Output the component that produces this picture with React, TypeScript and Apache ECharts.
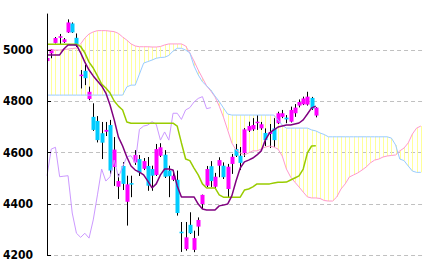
import React, { useEffect, useRef } from 'react';
import * as echarts from 'echarts';

// Candles (index 0..64): open, close, high, low
const opens = [
  4958, 4988, 5029, 5051, 5032, 5070, 5105, 5049, 4901, 4920,
  4810, 4740, 4724, 4676, 4682, 4708, 4544, 4467, 4548, 4408,
  4481, 4562, 4575, 4537, 4548, 4536, 4513, 4588, 4592, 4530,
  4494, 4494, 4291, 4223, 4318, 4220, 4311, 4399, 4471, 4547,
  4467, 4549, 4549, 4458, 4556, 4614, 4588, 4598, 4686, 4691,
  4717, 4695, 4677, 4673, 4695, 4715, 4740, 4737, 4721, 4754,
  4784, 4789, 4788, 4814, 4745,
];
const closes = [
  4970, 5004, 5048, 5055, 5043, 5109, 5070, 5017, 4905, 4891,
  4838, 4689, 4649, 4639, 4689, 4530, 4612, 4489, 4478, 4476,
  4476, 4591, 4522, 4567, 4471, 4510, 4614, 4621, 4506, 4508,
  4510, 4364, 4285, 4269, 4285, 4266, 4337, 4435, 4536, 4489,
  4506, 4571, 4504, 4545, 4584, 4588, 4560, 4691, 4704, 4708,
  4721, 4711, 4649, 4681, 4649, 4754, 4754, 4730, 4767, 4776,
  4798, 4812, 4819, 4772, 4776,
];
const highs = [
  4974, 5005, 5052, 5064, 5048, 5121, 5109, 5066, 4923, 4943,
  4858, 4793, 4743, 4720, 4720, 4728, 4661, 4517, 4563, 4510,
  4510, 4610, 4591, 4579, 4583, 4549, 4634, 4637, 4610, 4549,
  4532, 4530, 4329, 4329, 4367, 4295, 4347, 4436, 4548, 4567,
  4521, 4582, 4562, 4556, 4595, 4634, 4622, 4696, 4721, 4735,
  4747, 4720, 4695, 4712, 4735, 4760, 4767, 4747, 4780, 4790,
  4808, 4819, 4838, 4818, 4778,
];
const lows = [
  4954, 4969, 5027, 5025, 5029, 5068, 5068, 5013, 4851, 4864,
  4805, 4685, 4640, 4575, 4665, 4517, 4470, 4419, 4454, 4315,
  4426, 4552, 4509, 4532, 4451, 4451, 4509, 4583, 4501, 4426,
  4489, 4354, 4212, 4217, 4282, 4211, 4275, 4380, 4466, 4466,
  4458, 4504, 4497, 4426, 4517, 4583, 4532, 4583, 4681, 4685,
  4689, 4689, 4626, 4618, 4623, 4712, 4735, 4715, 4718, 4740,
  4777, 4786, 4784, 4767, 4738,
];

// Conversion line (index 0..64)
const tenkan = [
  4982, 4982, 4982, 4982, 5005, 5021, 5021, 5021, 4990, 4954,
  4923, 4900, 4880, 4861, 4833, 4786, 4728, 4661, 4626, 4583,
  4548, 4532, 4524, 4513, 4489, 4462, 4478, 4513, 4536, 4536,
  4532, 4470, 4427, 4427, 4427, 4427, 4399, 4380, 4376, 4376,
  4376, 4392, 4395, 4399, 4431, 4489, 4540, 4564, 4571, 4579,
  4591, 4607, 4650, 4677, 4689, 4700, 4704, 4708, 4708, 4712,
  4716, 4728, 4751, 4775, 4782,
];
// Base line (index 0..64)
const kijun = [
  5024, 5024, 5024, 5024, 5024, 5024, 5024, 5024, 5015, 4990,
  4954, 4931, 4900, 4868, 4853, 4833, 4802, 4782, 4767, 4720,
  4715, 4715, 4715, 4715, 4715, 4715, 4715, 4715, 4715, 4715,
  4715, 4704, 4638, 4575, 4569, 4540, 4513, 4478, 4462, 4462,
  4462, 4435, 4426, 4426, 4426, 4426, 4426, 4454, 4458, 4466,
  4478, 4478, 4478, 4478, 4481, 4484, 4484, 4485, 4493, 4501,
  4509, 4536, 4599, 4626, 4627,
];
// Leading span A (index 0..89)
const senkouA = [
  5001, 5001, 5001, 5001, 5003, 5005, 5007, 5009, 5025, 5048,
  5064, 5072, 5077, 5077, 5077, 5075, 5073, 5066, 5052, 5040,
  5025, 5017, 5014, 5014, 5014, 5013, 5013, 5015, 5021, 5025,
  5025, 5025, 5025, 5017, 4990, 4958, 4923, 4892, 4861, 4841,
  4818, 4782, 4739, 4689, 4638, 4610, 4599, 4591, 4599, 4607,
  4607, 4614, 4622, 4626, 4622, 4614, 4587, 4536, 4505, 4485,
  4466, 4446, 4427, 4423, 4423, 4421, 4413, 4411, 4411, 4427,
  4458, 4478, 4505, 4513, 4521, 4532, 4544, 4560, 4571, 4575,
  4583, 4587, 4589, 4591, 4607, 4618, 4638, 4673, 4696, 4704,
];
// Leading span B (index 0..89)
const senkouB = [
  4825, 4825, 4825, 4825, 4825, 4825, 4825, 4825, 4825, 4825,
  4825, 4825, 4825, 4825, 4825, 4825, 4825, 4825, 4825, 4857,
  4864, 4864, 4907, 4950, 4956, 4962, 4969, 4972, 4973, 4980,
  4997, 5008, 5008, 5001, 4990, 4939, 4904, 4877, 4861, 4845,
  4821, 4800, 4775, 4751, 4747, 4747, 4747, 4747, 4747, 4747,
  4747, 4747, 4747, 4747, 4747, 4728, 4708, 4696, 4696, 4696,
  4696, 4696, 4696, 4689, 4685, 4677, 4671, 4662, 4662, 4662,
  4662, 4662, 4662, 4662, 4662, 4662, 4662, 4662, 4662, 4662,
  4662, 4662, 4657, 4630, 4575, 4569, 4548, 4528, 4523, 4523,
];
// Lagging span: closes plotted 25 periods back
const chikou = closes.slice(25);

const yTicks = [4200, 4400, 4600, 4800, 5000];
const xCats = Array.from({ length: 91 }, (_, i) => String(i));

export default function App() {
  const ref = useRef<HTMLDivElement>(null);
  useEffect(() => {
    const chart = echarts.init(ref.current!, null, { renderer: 'svg' });
    const candleData = opens.map((o, i) => [i, o, closes[i], lows[i], highs[i]]);
    const cloudData = senkouA.map((a, i) => [i, a, senkouB[i]]);
    const labelFont = "'Liberation Sans Narrow', 'DejaVu Sans Condensed', 'Liberation Sans', sans-serif";
    const option: any = {
      animation: false,
      backgroundColor: '#ffffff',
      grid: { left: 45, right: 5, top: 14, bottom: 14 },
      xAxis: { type: 'category', data: xCats, boundaryGap: false, show: false },
      yAxis: [
        {
          type: 'value', min: 4200, max: 5142, interval: 200, z: 0,
          axisLine: { show: false }, axisTick: { show: false }, axisLabel: { show: false },
          splitLine: { show: true, showMaxLine: false, lineStyle: { color: '#c0c0c0', type: [4, 3], width: 1 } },
        },
        {
          type: 'value', min: 4200, max: 5142, interval: 200, position: 'left', z: 10,
          axisLine: { show: true, onZero: false, lineStyle: { color: '#000', width: 1 } },
          axisTick: { show: true, inside: true, length: 4, lineStyle: { color: '#000' }, customValues: yTicks },
          axisLabel: {
            customValues: yTicks, margin: 14, color: '#000', fontSize: 12, fontWeight: 'bold', fontFamily: labelFont,
            formatter: (v: number) => String(Math.round(v)),
          },
          splitLine: { show: false },
        },
      ],
      series: [
        {
          type: 'custom', name: 'cloud', z: 1, silent: true, clip: true,
          data: cloudData, encode: { x: 0, y: [1, 2] },
          renderItem: (params: any, api: any) => {
            const i = api.value(0);
            const p1 = api.coord([i, api.value(1)]);
            const p2 = api.coord([i, api.value(2)]);
            const x = Math.round(p1[0]) + 0.5;
            return { type: 'line', shape: { x1: x, y1: p1[1], x2: x, y2: p2[1] }, style: { stroke: '#ffff99', lineWidth: 1 } };
          },
        },
        {
          type: 'custom', name: 'candles', z: 2, silent: true, clip: true,
          data: candleData, encode: { x: 0, y: [1, 2, 3, 4] },
          renderItem: (params: any, api: any) => {
            const i = api.value(0);
            const o = api.value(1), c = api.value(2), l = api.value(3), h = api.value(4);
            const pO = api.coord([i, o]);
            const pC = api.coord([i, c]);
            const pL = api.coord([i, l]);
            const pH = api.coord([i, h]);
            const x = Math.round(pO[0]);
            const top = Math.min(pO[1], pC[1]);
            const bot = Math.max(pO[1], pC[1]);
            const up = c >= o;
            return {
              type: 'group',
              children: [
                { type: 'line', shape: { x1: x + 0.5, y1: pH[1], x2: x + 0.5, y2: pL[1] }, style: { stroke: '#000', lineWidth: 1 } },
                { type: 'rect', shape: { x: x - 1.5, y: top, width: 4, height: Math.max(bot - top, 1.5) }, style: { fill: up ? '#ff00ff' : '#00ccff' } },
              ],
            };
          },
        },
        { type: 'line', name: 'A', z: 3, data: senkouA, showSymbol: false, symbol: 'none', silent: true, lineStyle: { color: '#ff99cc', width: 1 } },
        { type: 'line', name: 'B', z: 3, data: senkouB, showSymbol: false, symbol: 'none', silent: true, lineStyle: { color: '#99ccff', width: 1 } },
        { type: 'line', name: 'chikou', z: 4, data: chikou, showSymbol: false, symbol: 'none', silent: true, lineStyle: { color: '#cc99ff', width: 1 } },
        { type: 'line', name: 'kijun', z: 4, data: kijun, showSymbol: false, symbol: 'none', silent: true, lineStyle: { color: '#99cc00', width: 1.5 } },
        { type: 'line', name: 'tenkan', z: 5, data: tenkan, showSymbol: false, symbol: 'none', silent: true, lineStyle: { color: '#800080', width: 1.5 } },
      ],
    };
    chart.setOption(option);
    return () => chart.dispose();
  }, []);
  return <div ref={ref} style={{ position: 'fixed', left: 0, top: 0, width: 430, height: 269, background: '#fff' }} />;
}
